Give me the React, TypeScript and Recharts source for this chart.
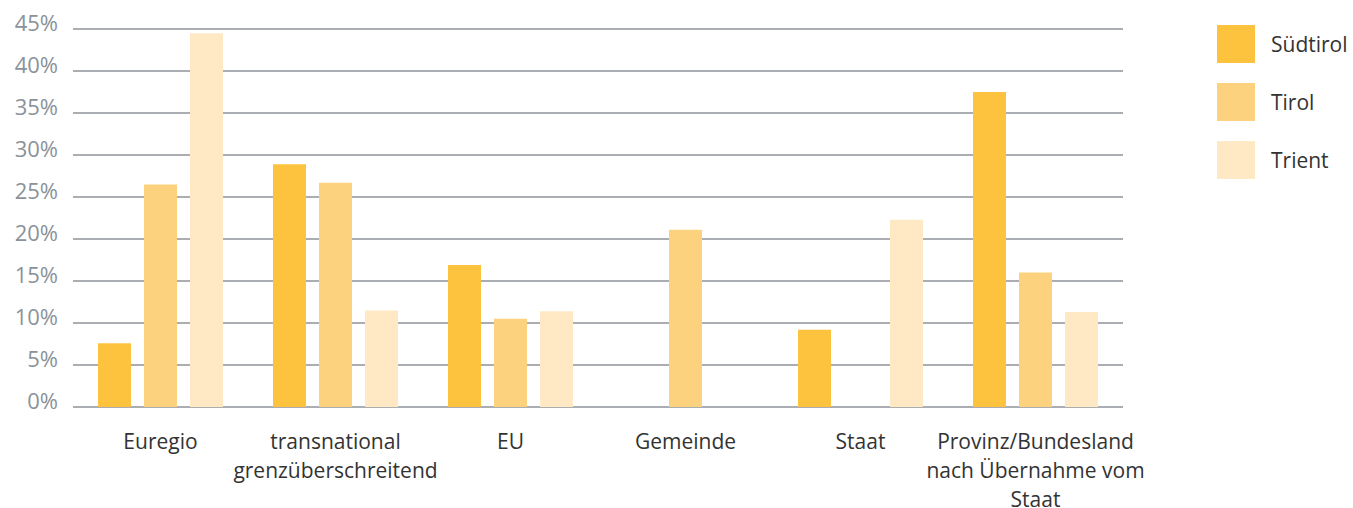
import React from 'react';
import { BarChart, Bar, XAxis, YAxis, CartesianGrid } from 'recharts';

const categories = [
  'Euregio',
  'transnational\ngrenzüberschreitend',
  'EU',
  'Gemeinde',
  'Staat',
  'Provinz/Bundesland\nnach Übernahme vom\nStaat',
];
const suedtirol = [7.6, 28.9, 16.9, 0, 9.2, 37.5];
const tirol = [26.5, 26.7, 10.5, 21.1, 0, 16.0];
const trient = [44.5, 11.5, 11.4, 0, 22.3, 11.3];
const yTicks = [0, 5, 10, 15, 20, 25, 30, 35, 40, 45];

const series = [
  { key: 'Südtirol', values: suedtirol, color: '#FDC33F' },
  { key: 'Tirol', values: tirol, color: '#FDD27E' },
  { key: 'Trient', values: trient, color: '#FEE9C4' },
];

const data = categories.map((name, i) => {
  const row: any = { name };
  series.forEach((s) => {
    row[s.key] = s.values[i];
  });
  return row;
});

const FONT = '"Open Sans", sans-serif';

const YTick = ({ x, y, payload }: any) => (
  <text x={x} y={y + 1.5} textAnchor="end" fill="#8b929a" fontSize={22} fontFamily={FONT}>
    {payload.value}%
  </text>
);

const XTick = ({ x, y, payload }: any) => {
  const lines = String(payload.value).split('\n');
  return (
    <text x={x} y={y} textAnchor="middle" fill="#333333" fontSize={21} fontFamily={FONT}>
      {lines.map((line, i) => (
        <tspan key={i} x={x} dy={i === 0 ? 42 : 29}>
          {line}
        </tspan>
      ))}
    </text>
  );
};

const LegendBox = () => (
  <div style={{ position: 'absolute', left: 1217, top: 25, fontFamily: FONT }}>
    {series.map((s) => (
      <div key={s.key} style={{ display: 'flex', alignItems: 'center', height: 38, marginBottom: 20 }}>
        <div style={{ width: 38, height: 38, background: s.color }} />
        <span style={{ marginLeft: 16, fontSize: 21, color: '#333333' }}>{s.key}</span>
      </div>
    ))}
  </div>
);

export default function App() {
  return (
    <div style={{ position: 'absolute', left: 0, top: 0, width: 1353, height: 508 }}>
      <BarChart
        width={1353}
        height={508}
        data={data}
        margin={{ top: 29, right: 230, left: 0, bottom: 0 }}
        barSize={33}
        barGap={13}
      >
        <CartesianGrid vertical={false} stroke="#8e9399" strokeWidth={1.3} />
        <XAxis
          dataKey="name"
          height={101}
          axisLine={false}
          tickLine={false}
          tickSize={0}
          tickMargin={0}
          interval={0}
          tick={<XTick />}
        />
        <YAxis
          width={73}
          domain={[0, 45]}
          ticks={yTicks}
          interval={0}
          axisLine={false}
          tickLine={false}
          tickSize={0}
          tickMargin={15}
          tick={<YTick />}
        />
        {series.map((s) => (
          <Bar key={s.key} dataKey={s.key} fill={s.color} isAnimationActive={false} />
        ))}
      </BarChart>
      <LegendBox />
    </div>
  );
}
